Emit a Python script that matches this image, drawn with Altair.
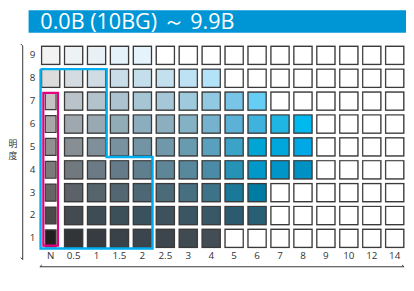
import altair as alt
import pandas as pd

# ---------------- data ----------------
title_text = "0.0B (10BG)  ～ 9.9B"
y_title_chars = ["明", "度"]

chroma_labels = ["N", "0.5", "1", "1.5", "2", "2.5", "3", "4", "5", "6", "7", "8", "9", "10", "12", "14"]
value_labels = [9, 8, 7, 6, 5, 4, 3, 2, 1]

W = "#ffffff"
row_9 = ["#f2f2f2", "#edf2f5", "#e9f1f6", "#e6f2f9", "#e4f3fc", W, W, W, W, W, W, W, W, W, W, W]
row_8 = ["#dcdcdc", "#d4dce1", "#cfdce4", "#c9dde8", "#c4deec", "#c3e0ef", "#bde2f3", "#b3e3f8", W, W, W, W, W, W, W, W]
row_7 = ["#c4c4c4", "#b9c3c9", "#b3c3cc", "#adc4d0", "#a7c6d5", "#a6c7d7", "#9fc9dc", "#91c9e3", "#78c5e8", "#66cdf4", W, W, W, W, W, W]
row_6 = ["#a8a8a8", "#9fa8ae", "#98a9b2", "#91abb7", "#8badbd", "#8cafbf", "#85b1c5", "#75b2cd", "#5bb1d6", "#3fb3de", "#1fb6e3", "#00b9ef", W, W, W, W]
row_5 = ["#919191", "#878f95", "#80909a", "#79929f", "#7394a5", "#7198aa", "#699bb0", "#58a0bd", "#3ba2c8", "#00a5d6", "#00a7dd", "#00a9e6", W, W, W, W]
row_4 = ["#7b7b7b", "#71787e", "#6b7a84", "#657b89", "#5f7e8e", "#5f8696", "#58889c", "#4a8ca8", "#2692b6", "#0097c9", "#0095c8", "#0091c4", W, W, W, W]
row_3 = ["#656565", "#5c6267", "#56646c", "#526771", "#4d6874", "#4c6b79", "#466f80", "#3d7389", "#1a7899", "#007ca3", W, W, W, W, W, W]
row_2 = ["#4a4a4a", "#434a50", "#3e4d55", "#3c5059", "#39525e", "#3d525d", "#3b5562", "#385868", "#2c5b6f", "#285f75", W, W, W, W, W, W]
row_1 = ["#231f20", "#323538", "#363c42", "#394248", "#3b454d", "#3d464c", "#404a51", "#434d55", W, W, W, W, W, W, W, W]
rows = [row_9, row_8, row_7, row_6, row_5, row_4, row_3, row_2, row_1]

# highlighted groups
magenta_chroma = "N"
magenta_values = (1, 7)
cyan_upper = ("N", "1", 5, 8)   # chroma from..to, value from..to
cyan_lower = ("N", "2", 1, 4)

# ---------------- tables ----------------
ci = {c: i for i, c in enumerate(chroma_labels)}
recs = []
for v, row in zip(value_labels, rows):
    for c, col in zip(chroma_labels, row):
        narrow = (c == magenta_chroma and magenta_values[0] <= v <= magenta_values[1])
        recs.append({"chroma": c, "ci": ci[c], "v": v, "color": col, "narrow": narrow})
cells = pd.DataFrame(recs)
normal = cells[~cells["narrow"]]
narrow = cells[cells["narrow"]]

mx, myt, myb = 0.44, 0.40, 0.44
ymid = (cyan_upper[2] + cyan_lower[3]) / 2 + 0.055
cyan_pts = [
    (ci[cyan_upper[0]] - mx, cyan_upper[3] + myt),
    (ci[cyan_upper[1]] + mx, cyan_upper[3] + myt),
    (ci[cyan_upper[1]] + mx, ymid),
    (ci[cyan_lower[1]] + mx, ymid),
    (ci[cyan_lower[1]] + mx, cyan_lower[2] - myb),
    (ci[cyan_lower[0]] - mx, cyan_lower[2] - myb),
    (ci[cyan_upper[0]] - mx, cyan_upper[3] + myt),
]
cyan_df = pd.DataFrame([{"ci": x, "v": y, "o": k} for k, (x, y) in enumerate(cyan_pts)])
mag_df = pd.DataFrame([{"ci": ci[magenta_chroma], "v0": magenta_values[0], "v1": magenta_values[1]}])
xlab_df = pd.DataFrame({"chroma": chroma_labels, "ci": [ci[c] for c in chroma_labels]})
ylab_df = pd.DataFrame({"v": value_labels, "lab": [str(v) for v in value_labels]})
ytitle_df = pd.DataFrame({"ch": y_title_chars, "k": list(range(len(y_title_chars)))})
one = pd.DataFrame({"t": [title_text]})

xs = alt.Scale(domain=[-0.45, 15.45], nice=False, zero=False)
ys = alt.Scale(domain=[0.5, 9.5], nice=False, zero=False)
X = lambda f="ci": alt.X(f"{f}:Q", scale=xs, axis=None)
Y = lambda f="v": alt.Y(f"{f}:Q", scale=ys, axis=None)
FONT = "Open Sans"

shadow = alt.Chart(normal).mark_square(size=400, color="#9a9a9a", opacity=1).encode(x=X(), y=Y())
squares = alt.Chart(normal).mark_square(size=340, filled=True, stroke="#3a3a3a", strokeWidth=1.2, opacity=1).encode(
    x=X(), y=Y(), color=alt.Color("color:N", scale=None))

hw, hh = 0.235, 0.37
narrow_cells = alt.Chart(narrow).transform_calculate(
    x1=f"datum.ci - {hw}", x2=f"datum.ci + {hw}", y1=f"datum.v - {hh}", y2=f"datum.v + {hh}"
).mark_rect(stroke="#3a3a3a", strokeWidth=1.2).encode(
    x=X("x1"), x2="x2:Q", y=Y("y1"), y2="y2:Q", color=alt.Color("color:N", scale=None))

mag = alt.Chart(mag_df).transform_calculate(
    x1="datum.ci - 0.32", x2="datum.ci + 0.32", y1="datum.v0 - 0.32", y2="datum.v1 + 0.36"
).mark_rect(fillOpacity=0, stroke="#e4007f", strokeWidth=2.2).encode(
    x=X("x1"), x2="x2:Q", y=Y("y1"), y2="y2:Q")

cyan = alt.Chart(cyan_df).mark_line(stroke="#00aeef", strokeWidth=2.5, strokeJoin="miter").encode(
    x=X(), y=Y(), order="o:Q")

xlabels = alt.Chart(xlab_df).mark_text(font=FONT, fontSize=10, color="#333333", baseline="middle").encode(
    x=X(), y=alt.value(216), text="chroma:N")
ylabels = alt.Chart(ylab_df).mark_text(font=FONT, fontSize=10, color="#333333", align="right", baseline="middle").encode(
    x=alt.value(-5), y=Y(), text="lab:N")

banner = alt.Chart(one).mark_rect(color="#0096d6").encode(
    x=alt.value(-12), x2=alt.value(373), y=alt.value(-34.5), y2=alt.value(-11.5))
title = alt.Chart(one).mark_text(font=FONT, fontSize=22, color="white", align="left",
                                 baseline="alphabetic").encode(
    x=alt.value(0), y=alt.value(-15), text="t:N")

ytitle = alt.Chart(ytitle_df).transform_calculate(
    py="102.5 + datum.k * 12"
).mark_text(font="Noto Sans CJK JP", fontSize=9, color="#333333", baseline="middle", align="center").encode(
    x=alt.value(-28), y=alt.Y("py:Q", scale=None, axis=None), text="ch:N")

axcol = "#333333"
def rule(x1, y1, x2, y2, w=1):
    return alt.Chart(one).mark_rule(color=axcol, strokeWidth=w).encode(
        x=alt.value(x1), y=alt.value(y1), x2=alt.value(x2), y2=alt.value(y2))

axes = [
    rule(-18, 2, -18, 220),
    rule(-18, 2, -20, 0),
    rule(-18, 220, -20, 218),
    rule(-0.5, 227.3, 371, 227.3),
    rule(-0.5, 227.3, 1.5, 225.5),
    rule(371, 227.3, 369, 225.5),
]

chart = alt.layer(
    banner, title, ytitle, *axes, shadow, squares, narrow_cells, mag, cyan, xlabels, ylabels
).resolve_scale(y="independent").properties(
    width=372, height=210,
    autosize=alt.AutoSizeParams(type="none"),
    padding={"left": 33, "top": 34, "right": 1, "bottom": 22},
).configure_view(stroke=None)

chart.save("out.html", embed_options={"renderer": "svg", "actions": False})
